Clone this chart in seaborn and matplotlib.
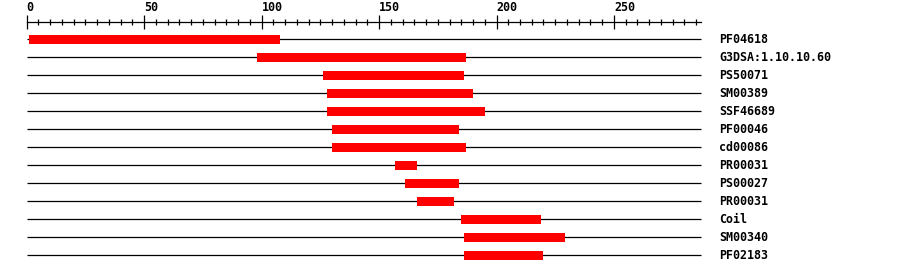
import matplotlib
matplotlib.use("Agg")
import matplotlib.pyplot as plt
from matplotlib.ticker import FixedLocator
import seaborn as sns
import pandas as pd

# ---- data ----
names = ["PF04618", "G3DSA:1.10.10.60", "PS50071", "SM00389", "SSF46689",
         "PF00046", "cd00086", "PR00031", "PS00027", "PR00031", "Coil",
         "SM00340", "PF02183"]
starts = [1, 98, 126, 128, 128, 130, 130, 157, 161, 166, 185, 186, 186]
ends = [108, 187, 186, 190, 195, 184, 187, 166, 184, 182, 219, 229, 220]
seq_len = 287
major_ticks = [0, 50, 100, 150, 200, 250]
minor_ticks = list(range(0, 286, 5))

df = pd.DataFrame({"name": names, "start": starts, "end": ends})
df["row"] = range(len(df))
df["length"] = df["end"] - df["start"]

sns.set_theme(style="white", rc={"text.color": "black", "xtick.color": "black",
                                 "ytick.color": "black", "axes.labelcolor": "black"})
plt.rcParams["font.family"] = ["DejaVu Sans Mono"]
plt.rcParams["font.weight"] = "bold"

W, H = 900, 274
fig = plt.figure(figsize=(W / 100, H / 100), dpi=100)
top_px = 21.7
right_px = 710
ax = fig.add_axes([0, 0, right_px / W, (H - top_px) / H])

px0, ppu = 26.7, 2.349
ax.set_xlim(-px0 / ppu, (right_px - px0) / ppu)
row0, rowstep = 39.5, 18.0
ax.set_ylim((H - row0) / rowstep, (top_px - row0) / rowstep)

# sequence lines
ax.hlines(df["row"], 0, seq_len, color="black", lw=0.9, zorder=1)
# domain bars
ax.barh(df["row"], df["length"], left=df["start"], height=0.5,
        color="#ff0000", edgecolor="none", zorder=2)

# spines / ruler
for s in ["left", "right", "bottom"]:
    ax.spines[s].set_visible(False)
ax.spines["top"].set_visible(True)
ax.spines["top"].set_color("black")
ax.spines["top"].set_linewidth(0.9)
ax.spines["top"].set_bounds(0, seq_len)

ax.xaxis.set_major_locator(FixedLocator(major_ticks))
ax.xaxis.set_minor_locator(FixedLocator(minor_ticks))
ax.xaxis.set_ticklabels([str(t) for t in major_ticks])
ax.tick_params(axis="x", which="both", top=True, bottom=False,
               labeltop=True, labelbottom=False, direction="inout",
               color="black", width=0.9)
ax.tick_params(axis="x", which="major", length=10.0, pad=0.3, labelsize=8.4,
               labelcolor="black")
ax.tick_params(axis="x", which="minor", length=4.3)
for t in ax.xaxis.get_major_ticks():
    t.label2.set_horizontalalignment("left")
    t.label2.set_fontweight("bold")

# row labels
ax.yaxis.set_major_locator(FixedLocator(list(df["row"])))
ax.yaxis.set_ticklabels(df["name"])
ax.tick_params(axis="y", left=False, right=False, labelleft=False,
               labelright=True, length=0, pad=6.5, labelsize=8.4,
               labelcolor="black")
for t in ax.yaxis.get_major_ticks():
    t.label2.set_fontweight("bold")
    t.label2.set_verticalalignment("center")

ax.grid(False)
fig.savefig("out.png", dpi=100, facecolor="white")
